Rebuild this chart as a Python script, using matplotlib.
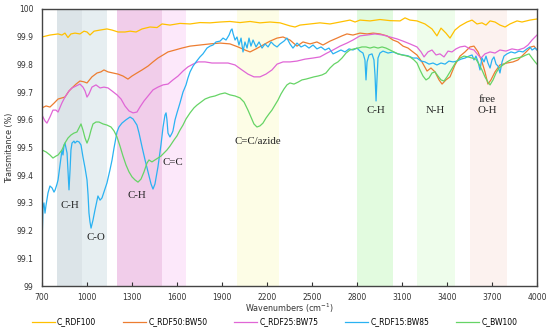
import matplotlib
matplotlib.use("Agg")
import matplotlib.pyplot as plt

# ---------------- data ----------------
wn_rdf100 = [700,753,807,833,853,873,893,920,953,980,1000,1020,1047,1087,1133,1167,1207,1253,1287,1327,1367,1420,1467,1500,1553,1620,1687,1753,1820,1887,1953,2020,2087,2153,2220,2287,2353,2387,2420,2487,2553,2620,2687,2753,2787,2820,2887,2953,3020,3087,3120,3153,3200,3253,3300,3333,3360,3393,3420,3453,3487,3533,3567,3600,3633,3660,3687,3720,3753,3787,3820,3867,3900,3953,4000]
t_rdf100 = [99.899,99.906,99.910,99.906,99.913,99.897,99.910,99.913,99.910,99.920,99.917,99.906,99.920,99.924,99.928,99.924,99.917,99.917,99.920,99.917,99.928,99.935,99.933,99.946,99.942,99.948,99.946,99.951,99.950,99.953,99.955,99.951,99.955,99.950,99.953,99.950,99.939,99.935,99.942,99.946,99.950,99.946,99.953,99.960,99.953,99.960,99.957,99.962,99.958,99.957,99.968,99.960,99.957,99.946,99.928,99.903,99.931,99.913,99.895,99.924,99.939,99.953,99.960,99.946,99.950,99.942,99.957,99.953,99.942,99.935,99.946,99.957,99.953,99.960,99.964]

wn_rdf50 = [700,727,753,780,807,833,853,880,900,927,953,980,1000,1033,1067,1093,1113,1140,1173,1207,1240,1273,1300,1333,1367,1407,1440,1473,1507,1540,1587,1633,1687,1753,1820,1887,1953,2007,2053,2087,2127,2173,2220,2267,2307,2353,2400,2440,2487,2533,2573,2620,2667,2700,2733,2773,2820,2867,2907,2953,3000,3040,3073,3107,3140,3173,3200,3233,3267,3293,3320,3347,3367,3393,3420,3453,3487,3520,3553,3580,3607,3633,3653,3673,3693,3720,3753,3800,3840,3873,3907,3933,3960,3980,4000]
t_rdf50 = [99.643,99.650,99.646,99.660,99.675,99.679,99.682,99.704,99.715,99.729,99.740,99.737,99.733,99.755,99.769,99.773,99.780,99.773,99.769,99.765,99.758,99.747,99.758,99.769,99.780,99.794,99.809,99.823,99.834,99.845,99.852,99.859,99.866,99.870,99.874,99.877,99.874,99.863,99.852,99.845,99.856,99.870,99.884,99.895,99.899,99.888,99.866,99.881,99.874,99.881,99.870,99.884,99.895,99.903,99.910,99.906,99.913,99.910,99.913,99.910,99.903,99.888,99.881,99.866,99.859,99.845,99.834,99.809,99.776,99.787,99.773,99.744,99.729,99.744,99.755,99.798,99.830,99.845,99.863,99.866,99.845,99.809,99.773,99.729,99.744,99.773,99.798,99.805,99.809,99.816,99.834,99.848,99.863,99.866,99.852]

wn_rdf25 = [700,720,733,753,773,793,807,833,853,880,900,927,953,973,987,1000,1013,1033,1060,1087,1113,1140,1167,1200,1227,1253,1280,1307,1333,1353,1380,1407,1440,1473,1507,1540,1573,1607,1640,1673,1707,1740,1787,1833,1887,1940,1987,2033,2073,2113,2153,2193,2233,2267,2307,2353,2400,2453,2507,2553,2600,2640,2687,2733,2773,2820,2867,2920,2973,3020,3067,3107,3153,3200,3227,3247,3273,3300,3327,3353,3380,3407,3433,3460,3487,3520,3553,3580,3607,3627,3653,3687,3720,3753,3793,3833,3873,3913,3940,3967,3987,4000]
t_rdf25 = [99.617,99.596,99.588,99.610,99.635,99.635,99.628,99.661,99.682,99.704,99.715,99.722,99.729,99.718,99.704,99.682,99.693,99.718,99.726,99.715,99.718,99.715,99.704,99.690,99.675,99.650,99.632,99.625,99.628,99.646,99.668,99.686,99.708,99.718,99.726,99.729,99.744,99.758,99.776,99.791,99.801,99.809,99.809,99.805,99.805,99.805,99.798,99.780,99.765,99.755,99.755,99.765,99.780,99.801,99.809,99.809,99.812,99.819,99.823,99.827,99.841,99.852,99.866,99.877,99.888,99.903,99.906,99.910,99.906,99.899,99.892,99.884,99.874,99.863,99.845,99.827,99.845,99.852,99.834,99.838,99.827,99.848,99.845,99.856,99.863,99.866,99.856,99.852,99.834,99.823,99.838,99.845,99.841,99.852,99.848,99.856,99.852,99.859,99.870,99.888,99.899,99.906]

wn_rdf15 = [700,707,713,720,727,740,753,767,780,787,800,807,820,833,840,847,853,860,867,873,880,887,893,900,913,920,933,947,960,973,987,1000,1007,1013,1020,1027,1040,1053,1067,1073,1087,1100,1113,1133,1153,1167,1180,1200,1213,1233,1260,1287,1307,1333,1347,1367,1387,1407,1427,1440,1453,1473,1493,1507,1520,1527,1533,1540,1553,1567,1573,1587,1600,1620,1640,1660,1673,1687,1707,1727,1753,1773,1800,1820,1840,1860,1887,1907,1927,1947,1960,1967,1973,1987,2000,2013,2027,2040,2053,2067,2080,2093,2107,2127,2147,2167,2187,2207,2227,2247,2267,2287,2313,2333,2353,2373,2400,2427,2453,2480,2507,2533,2560,2587,2613,2640,2667,2693,2720,2747,2773,2800,2820,2840,2853,2860,2867,2880,2900,2913,2920,2927,2933,2940,2953,2973,3007,3040,3073,3107,3140,3173,3200,3227,3253,3280,3307,3333,3360,3387,3413,3440,3467,3493,3520,3547,3567,3580,3593,3607,3620,3633,3647,3660,3673,3687,3700,3713,3727,3740,3753,3767,3780,3800,3827,3853,3880,3907,3933,3953,3967,3987,4000]
t_rdf15 = [99.155,99.285,99.300,99.263,99.292,99.336,99.361,99.354,99.339,99.346,99.368,99.383,99.437,99.490,99.473,99.509,99.516,99.498,99.480,99.419,99.347,99.419,99.491,99.516,99.523,99.516,99.523,99.520,99.509,99.466,99.426,99.383,99.329,99.264,99.231,99.209,99.238,99.274,99.310,99.325,99.310,99.318,99.339,99.372,99.419,99.455,99.498,99.556,99.574,99.588,99.600,99.610,99.603,99.581,99.552,99.502,99.455,99.412,99.368,99.350,99.368,99.430,99.509,99.574,99.617,99.625,99.600,99.552,99.538,99.552,99.560,99.600,99.625,99.661,99.700,99.726,99.751,99.773,99.794,99.809,99.827,99.838,99.859,99.866,99.870,99.881,99.884,99.895,99.888,99.906,99.924,99.928,99.913,99.888,99.899,99.870,99.895,99.845,99.881,99.859,99.895,99.866,99.888,99.863,99.881,99.859,99.874,99.863,99.881,99.870,99.863,99.874,99.884,99.895,99.874,99.859,99.877,99.863,99.870,99.859,99.870,99.856,99.863,99.852,99.859,99.838,99.845,99.852,99.845,99.856,99.852,99.859,99.848,99.841,99.816,99.744,99.809,99.834,99.838,99.816,99.762,99.668,99.744,99.823,99.841,99.848,99.841,99.845,99.838,99.834,99.831,99.823,99.823,99.812,99.809,99.801,99.805,99.798,99.805,99.801,99.812,99.809,99.812,99.819,99.823,99.830,99.834,99.816,99.830,99.809,99.780,99.823,99.809,99.830,99.805,99.787,99.816,99.827,99.801,99.794,99.769,99.809,99.830,99.838,99.845,99.841,99.848,99.845,99.856,99.863,99.852,99.859,99.852]

wn_bw100 = [700,727,753,773,793,807,833,853,873,893,913,933,953,960,973,987,1000,1013,1027,1040,1060,1080,1107,1133,1160,1180,1200,1220,1240,1260,1280,1300,1320,1340,1360,1380,1400,1413,1433,1453,1473,1493,1513,1533,1553,1580,1600,1620,1640,1660,1687,1713,1733,1753,1787,1820,1853,1887,1920,1953,1987,2020,2047,2073,2093,2113,2133,2153,2173,2193,2213,2233,2253,2273,2293,2313,2333,2353,2380,2407,2433,2460,2487,2513,2540,2567,2593,2620,2647,2673,2700,2727,2753,2780,2807,2833,2860,2887,2913,2940,2967,2993,3020,3047,3073,3100,3127,3153,3180,3200,3220,3240,3260,3280,3300,3320,3340,3360,3380,3400,3420,3440,3460,3487,3513,3540,3567,3593,3613,3633,3653,3673,3687,3707,3727,3747,3773,3800,3833,3867,3900,3927,3947,3967,3987,4000]
t_bw100 = [99.491,99.484,99.473,99.462,99.469,99.473,99.491,99.516,99.534,99.545,99.552,99.556,99.578,99.585,99.563,99.534,99.516,99.534,99.563,99.585,99.592,99.592,99.585,99.581,99.574,99.560,99.538,99.505,99.469,99.437,99.412,99.394,99.383,99.375,99.386,99.412,99.444,99.455,99.448,99.455,99.462,99.469,99.480,99.491,99.505,99.527,99.542,99.563,99.581,99.603,99.625,99.643,99.653,99.661,99.675,99.682,99.686,99.693,99.697,99.690,99.686,99.679,99.664,99.635,99.610,99.585,99.574,99.578,99.588,99.606,99.621,99.635,99.653,99.671,99.693,99.711,99.726,99.733,99.729,99.736,99.744,99.747,99.751,99.755,99.758,99.762,99.769,99.787,99.801,99.809,99.823,99.841,99.852,99.856,99.859,99.863,99.863,99.859,99.863,99.859,99.863,99.859,99.852,99.845,99.838,99.834,99.831,99.827,99.816,99.805,99.780,99.758,99.744,99.751,99.769,99.773,99.758,99.744,99.740,99.755,99.773,99.791,99.809,99.823,99.830,99.827,99.823,99.819,99.801,99.780,99.755,99.736,99.726,99.744,99.769,99.787,99.798,99.809,99.819,99.823,99.827,99.834,99.838,99.823,99.809,99.801]

series_names = ["C_RDF100", "C_RDF50:BW50", "C_RDF25:BW75", "C_RDF15:BW85", "C_BW100"]

band_ranges = [(800, 965), (965, 1135), (1200, 1500), (1500, 1660), (2000, 2280),
               (2800, 3040), (3200, 3450), (3550, 3800)]
band_labels = ["C-H", "C-O", "C-H", "C=C", "C=C/azide", "C-H", "N-H", "free\nO-H"]
label_pos = [(887, 99.29), (1060, 99.175), (1333, 99.325), (1573, 99.445),
             (2140, 99.52), (2927, 99.632), (3320, 99.632), (3667, 99.655)]

x_ticks = [700, 1000, 1300, 1600, 1900, 2200, 2500, 2800, 3100, 3400, 3700, 4000]
y_ticks = [99, 99.1, 99.2, 99.3, 99.4, 99.5, 99.6, 99.7, 99.8, 99.9, 100]
y_ticklabels = ["99", "99.1", "99.2", "99.3", "99.4", "99.5", "99.6", "99.7", "99.8", "99.9", "100"]

# ---------------- styling ----------------
line_colors = ["#FFC000", "#ED7D31", "#E066D6", "#2AB2F2", "#66D466"]
band_colors = ["#DCE4E8", "#E6EEF1", "#F1CDEA", "#FCE8FA", "#FDFDE6",
               "#E2FBDF", "#EEFDEB", "#FCF2EF"]

fig = plt.figure(figsize=(5.5, 3.31), dpi=100)
ax = fig.add_axes([42/550, 45/331, 495/550, 277/331])

for (a, b), c in zip(band_ranges, band_colors):
    ax.axvspan(a, b, color=c, lw=0, zorder=0)

data = [(wn_rdf100, t_rdf100), (wn_rdf50, t_rdf50), (wn_rdf25, t_rdf25),
        (wn_rdf15, t_rdf15), (wn_bw100, t_bw100)]
for (xv, yv), c, n in zip(data, line_colors, series_names):
    ax.plot(xv, yv, color=c, lw=0.9, label=n, zorder=2)

for txt, (xx, yy) in zip(band_labels, label_pos):
    ax.text(xx, yy, txt, ha="center", va="center", fontsize=7.8,
            family="Liberation Serif", color="#222222", zorder=3,
            linespacing=1.3)

ax.set_xlim(700, 4000)
ax.set_ylim(99, 100)
ax.set_xticks(x_ticks)
ax.set_xticklabels([str(v) for v in x_ticks])
ax.set_yticks(y_ticks)
ax.set_yticklabels(y_ticklabels)
ax.tick_params(axis="x", direction="in", length=3, width=0.8, labelsize=5.5,
               pad=5, colors="#333333")
ax.tick_params(axis="y", length=0, labelsize=5.5, pad=6, colors="#333333")
for s in ax.spines.values():
    s.set_color("#444444")
    s.set_linewidth(1.0)

ax.set_xlabel("Wavenumbers (cm$^{-1}$)", fontsize=5.8, labelpad=0, color="#333333")
ax.set_ylabel("Transmitance (%)", fontsize=5.8, color="#333333")
ax.yaxis.set_label_coords(-28/495, 0.5)

fig.legend(loc="lower left", ncol=5, frameon=False, fontsize=5.5,
           bbox_to_anchor=(27/550, 0.0, 495/550, 0.06), mode="expand",
           handlelength=3.0, handletextpad=0.3, borderaxespad=0.2)

fig.savefig("out.png", dpi=100)
